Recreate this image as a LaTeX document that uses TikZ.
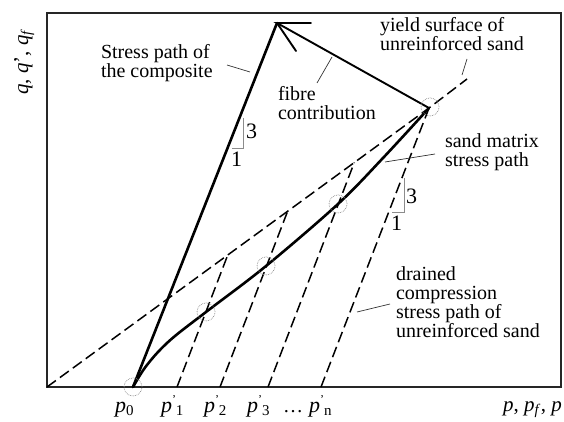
\documentclass[tikz,border=0pt]{standalone}
\usepackage{fontspec}
\setmainfont{Liberation Serif}
\newcommand{\ptick}[2]{\fontsize{22}{22}\selectfont\textit{p}\raisebox{9pt}{\fontsize{12}{12}\selectfont #1}\raisebox{-3pt}{\fontsize{15}{15}\selectfont #2}}
\begin{document}
\begin{tikzpicture}[x=1pt,y=-1pt,
  every node/.style={inner sep=0pt, outer sep=0pt, font=\fontsize{20}{17}\selectfont},
  framebox/.style={line width=1.8pt, draw=black!85},
  boldpath/.style={line width=2.6pt, line join=round, line cap=round},
  fibrepath/.style={line width=1.9pt, line cap=round},
  dashline/.style={line width=1.5pt, dash pattern=on 11pt off 5pt},
  leader/.style={line width=0.7pt, draw=black!80},
  slopetri/.style={line width=0.9pt, draw=black!45},
  ringc/.style={draw=black!45, densely dotted, line width=0.7pt, circle, minimum size=18pt},
  txt/.style={anchor=base west},
  digit/.style={anchor=base west, font=\fontsize{22}{22}\selectfont}
]
\useasboundingbox (0,0) rectangle (564,422);
% frame
\draw[framebox] (47,13) rectangle (561,387);
% key points
\coordinate (O) at (47,387);
\coordinate (P0) at (133,387);
\coordinate (P1) at (177,387);
\coordinate (P2) at (220,387);
\coordinate (P3) at (268,387);
\coordinate (Pn) at (321,387);
\coordinate (T1) at (227.8,254.9);
\coordinate (T2) at (287.6,211.3);
\coordinate (T3) at (354.3,162.5);
\coordinate (Y) at (429,108);
\coordinate (Yend) at (467,79);
\coordinate (Apex) at (277,23);
\coordinate (A1) at (311,23);
\coordinate (A2) at (296,51);
% yield surface
\draw[dashline] (O) -- (Y) -- (Yend);
% drained paths
\draw[dashline] (P1) -- (T1);
\draw[dashline] (P2) -- (T2);
\draw[dashline] (P3) -- (T3);
\draw[dashline] (Pn) -- (Y);
% composite path
\draw[boldpath] (P0) -- (Apex);
% fibre contribution
\draw[fibrepath] (Y) -- (Apex) -- (A1);
\draw[fibrepath] (Apex) -- (A2);
% sand matrix path
\draw[boldpath] plot[smooth, tension=0.55] coordinates {(133,387) (144,369) (158,352) (175,336) (206,312) (266,266) (338,204) (383,158) (429,108)};
% circles
\node[ringc] (c0) at (P0) {};
\node[ringc] (c1) at (206,312) {};
\node[ringc] (c2) at (266,266) {};
\node[ringc] (c3) at (338,204) {};
\node[ringc] (c4) at (430,107) {};
% slope triangles
\draw[slopetri] (243,118) -- (243,148) -- (232,148);
\node[digit] (d3a) at (246,139) {3};
\node[digit] (d1a) at (231,166) {1};
\draw[slopetri] (404,178) -- (404,212) -- (392,212);
\node[digit] (d3b) at (406,203) {3};
\node[digit] (d1b) at (391,230) {1};
% labels
\node[txt] (s1) at (101,59) {Stress path of};
\node[txt] (s2) at (101,77.5) {the composite};
\coordinate (ls1) at (227,65); \coordinate (ls2) at (250,72);
\draw[leader] (ls1) -- (ls2);
\node[txt] (f1) at (278,101) {fibre};
\node[txt] (f2) at (278,119.5) {contribution};
\coordinate (lf1) at (317,83); \coordinate (lf2) at (332,57);
\draw[leader] (lf1) -- (lf2);
\node[txt] (y1) at (380,32) {yield surface of};
\node[txt] (y2) at (380,50.5) {unreinforced sand};
\coordinate (ly1) at (462,75); \coordinate (ly2) at (467,59);
\draw[leader] (ly1) -- (ly2);
\node[txt] (m1) at (445,148) {sand matrix};
\node[txt] (m2) at (445,166.5) {stress path};
\coordinate (lm1) at (385,162); \coordinate (lm2) at (435,154);
\draw[leader] (lm1) -- (lm2);
\node[txt] (r1) at (396,280) {drained};
\node[txt] (r2) at (396,299) {compression};
\node[txt] (r3) at (396,318) {stress path of};
\node[txt] (r4) at (396,337) {unreinforced sand};
\coordinate (lr1) at (357,312); \coordinate (lr2) at (390,304);
\draw[leader] (lr1) -- (lr2);
% axis ticks labels
\node[txt] (t0) at (115,412) {\ptick{}{0}};
\node[txt] (t1) at (161,412) {\ptick{'}{1}};
\node[txt] (t2) at (204,412) {\ptick{'}{2}};
\node[txt] (t3) at (247,412) {\ptick{'}{3}};
\node[txt] (tdots) at (283,412) {\dots};
\node[txt] (tn) at (309,412) {\ptick{'}{n}};
% axis labels
\node[anchor=base, rotate=90, font=\fontsize{21}{21}\selectfont] (ylab) at (28,62) {\textit{q}, \textit{q}', \textit{q}\textsubscript{\textit{f}}};
\node[txt, font=\fontsize{21}{21}\selectfont] (xlab) at (503,411) {\textit{p}, \textit{p}\textsubscript{\textit{f}}, \textit{p}};
\end{tikzpicture}
\end{document}
